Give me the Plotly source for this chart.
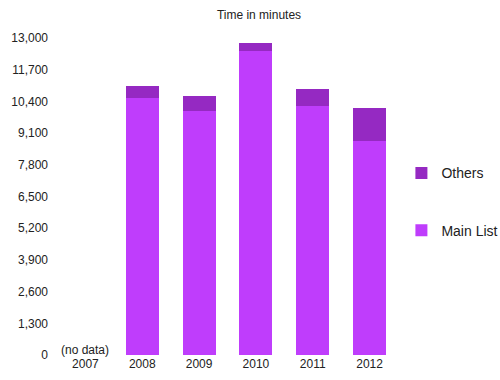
import plotly.graph_objects as go

years = ["2007", "2008", "2009", "2010", "2011", "2012"]
main_list = [None, 10520, 10000, 12470, 10200, 8760]
others = [None, 530, 630, 330, 700, 1370]
y_ticks = [0, 1300, 2600, 3900, 5200, 6500, 7800, 9100, 10400, 11700, 13000]

MAIN_COLOR = "#bf3dfc"
OTHER_COLOR = "#9529c2"

fig = go.Figure()
fig.add_trace(go.Bar(x=years, y=main_list, name="Main List", legendrank=2, legendgroup="main",
                     marker=dict(color=MAIN_COLOR, line=dict(width=0))))
fig.add_trace(go.Bar(x=years, y=others, name="Others", legendrank=1, legendgroup="others",
                     marker=dict(color=OTHER_COLOR, line=dict(width=0))))

fig.add_annotation(x=0, y=0, text="(no data)", showarrow=False,
                   yanchor="bottom", font=dict(size=12, color="#222"), yshift=-4)

fig.update_layout(
    width=500, height=380,
    barmode="stack", bargap=0.42,
    margin=dict(l=57, r=102, t=38, b=25, autoexpand=False),
    paper_bgcolor="white", plot_bgcolor="white",
    font=dict(family="Liberation Sans, Arial, sans-serif", size=12, color="#222"),
    title=dict(text="Time in minutes", x=0.518, xanchor="center", y=0.96, yanchor="middle",
               font=dict(size=12, color="#222")),
    showlegend=True,
    legend=dict(x=1.01, xanchor="left", y=0.483, yanchor="middle",
                traceorder="grouped", tracegroupgap=36,
                font=dict(size=14, color="#222"), itemwidth=30),
    xaxis=dict(type="category", categoryorder="array", categoryarray=years,
               range=[-0.5, 5.5], showgrid=False, showline=False, zeroline=False,
               ticks="", tickfont=dict(size=12)),
    yaxis=dict(range=[0, 13000], tickvals=y_ticks, tickformat=",d",
               showgrid=False, showline=False, zeroline=False, ticks="",
               ticklabelstandoff=8, tickfont=dict(size=12)),
)

fig.write_html("out.html")
